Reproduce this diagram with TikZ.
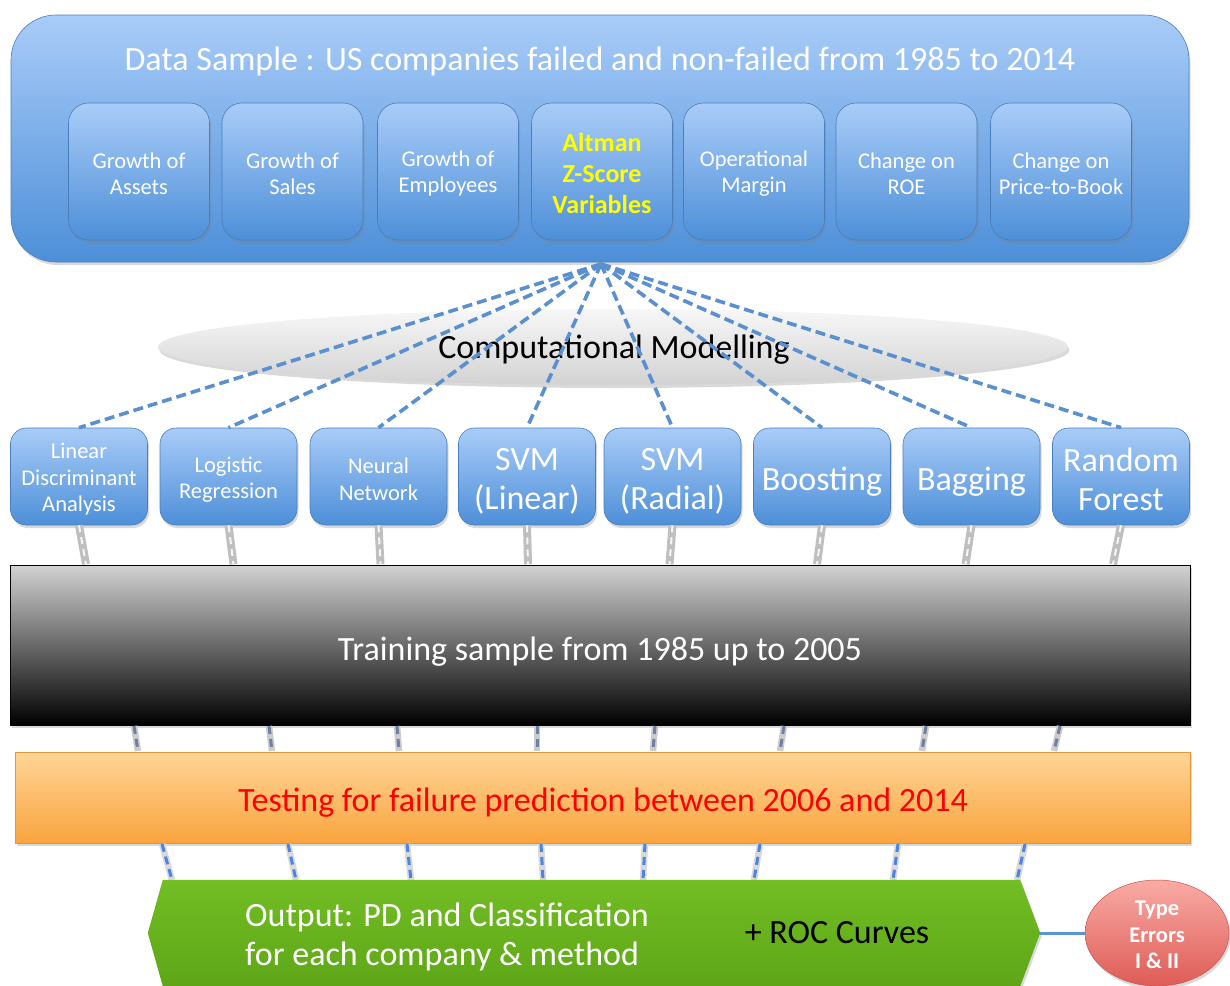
\documentclass[tikz,border=0pt]{standalone}
\usepackage{fontspec}
\setmainfont{Carlito}
\usetikzlibrary{shapes.geometric,shadows,calc}

\definecolor{bluetop}{HTML}{A9CCF8}
\definecolor{bluebot}{HTML}{4D8FD8}
\definecolor{boxedge}{HTML}{4A7EBB}
\definecolor{linkblue}{HTML}{5A8FD0}
\definecolor{orangetop}{HTML}{FFD597}
\definecolor{orangebot}{HTML}{F9A43E}
\definecolor{orangeedge}{HTML}{E0963A}
\definecolor{greentop}{HTML}{72BE24}
\definecolor{greenbot}{HTML}{5EA617}
\definecolor{redtop}{HTML}{F9ABA5}
\definecolor{redbot}{HTML}{DF5B56}
\definecolor{rededge}{HTML}{C65450}
\definecolor{altman}{HTML}{FFFF00}
\definecolor{slateblue}{HTML}{6E80A6}
\definecolor{brightblue}{HTML}{4C84E6}
\definecolor{errline}{HTML}{5B95D2}

\begin{document}
\begin{tikzpicture}[x=1pt,y=-1pt,
  softshadow/.style={drop shadow={opacity=0.3,shadow xshift=1.5pt,shadow yshift=-3pt}},
  panel/.style={draw=boxedge,line width=0.6pt,top color=bluetop,bottom color=bluebot,
    rounded corners=20pt,inner sep=0pt,softshadow},
  varbox/.style={panel,minimum width=141pt,minimum height=137pt},
  methodbox/.style={panel,rounded corners=16pt,minimum width=137pt,minimum height=97pt},
  boxtext/.style={text=white,align=center,inner sep=0pt},
  vartext/.style={boxtext,font=\fontsize{22.5}{26}\selectfont},
  smalltext/.style={boxtext,font=\fontsize{22.5}{26.5}\selectfont},
  bigtext/.style={font=\fontsize{34}{39}\selectfont},
  bigboxtext/.style={boxtext,bigtext},
  spoke/.style={draw=linkblue,line width=3.6pt,dash pattern=on 10pt off 5pt},
  pipe/.style={draw=gray!50,line width=8pt,
    postaction={draw=white!92!gray,line width=2pt,dash pattern=on 7pt off 5pt}},
  slatepipe/.style={draw=gray!40,line width=6.5pt,
    postaction={draw=slateblue,line width=3pt,dash pattern=on 8pt off 5pt}},
  bluepipe/.style={draw=gray!30,line width=6.5pt,
    postaction={draw=brightblue,line width=3pt,dash pattern=on 8pt off 5pt}}]

\useasboundingbox (0,0) rectangle (1230,985);

% ---- data sample panel with its variables
\node[panel,rounded corners=45pt,minimum width=1178pt,minimum height=247pt] (sample) at (600,138.5) {};
\node[text=white,font=\fontsize{34}{40}\selectfont,anchor=base] (title) at (600,70)
  {Data Sample : US companies failed and non-failed from 1985 to 2014};

\foreach \v/\x in {v1/139,v2/292.5,v3/448,v4/602,v5/754,v6/906.5,v7/1061}
  \node[varbox] (\v) at (\x,171.5) {};

\node[vartext,yshift=-2pt] (v1label) at (v1) {Growth of\\Assets};
\node[vartext,yshift=-2pt] (v2label) at (v2) {Growth of\\Sales};
\node[vartext,yshift=-2pt] (v3label) at (v3) {Growth of\\Employees};
\node[boxtext,text=altman,font=\bfseries\fontsize{26}{31}\selectfont,yshift=-2pt] (v4label) at (v4)
  {Altman\\Z-Score\\Variables};
\node[vartext,yshift=-2pt] (v5label) at (v5) {Operational\\Margin};
\node[vartext,yshift=-2pt] (v6label) at (v6) {Change on\\ROE};
\node[vartext,yshift=-2pt] (v7label) at (v7) {Change on\\Price-to-Book};

\coordinate (hub) at (601,264);

% ---- modelling layer
\node[ellipse,minimum width=910pt,minimum height=76pt,inner sep=0pt,
  top color=gray!6,bottom color=gray!35,softshadow] (model) at (613,347) {};
\node[bigtext,anchor=base] (modellabel) at (614,358) {Computational Modelling};

% ---- methods
\foreach \m/\x in {lda/79,lr/228.5,nn/378.5,svml/527,svmr/672.5,boost/822,bag/971.5,rf/1121}
  \node[methodbox] (\m) at (\x,476.5) {};

\node[smalltext,yshift=-3pt]   (ldalabel)   at (lda)   {Linear\\Discriminant\\Analysis};
\node[smalltext,yshift=-3pt]   (lrlabel)    at (lr)    {Logistic\\Regression};
\node[smalltext,yshift=-3pt]   (nnlabel)    at (nn)    {Neural\\Network};
\node[bigboxtext,yshift=-5pt]  (svmllabel)  at (svml)  {SVM\\(Linear)};
\node[bigboxtext,yshift=-5pt]  (svmrlabel)  at (svmr)  {SVM\\(Radial)};
\node[bigboxtext,yshift=-5pt]  (boostlabel) at (boost) {Boosting};
\node[bigboxtext,yshift=-5pt]  (baglabel)   at (bag)   {Bagging};
\node[bigboxtext,yshift=-3pt]  (rflabel)    at (rf)    {Random\\Forest};

\foreach \m in {lda,lr,nn,svml,svmr,boost,bag,rf}
  \draw[spoke] (hub) -- (\m.north);

% ---- training sample
\node[draw=black,line width=0.6pt,top color=gray!35,bottom color=black,
  minimum width=1180pt,minimum height=160pt,inner sep=0pt,softshadow] (train) at (600,645) {};
\node[text=white,bigtext,anchor=base] (trainlabel) at (600,660)
  {Training sample from 1985 up to 2005};

\foreach \m/\dx in {lda/7,lr/5,nn/2,svml/1,svmr/-3,boost/-5,bag/-6,rf/-8}
  \draw[pipe] (\m.south) -- ($(\m.south |- train.north)+(\dx,-0.5)$);

% ---- testing sample
\node[draw=orangeedge,line width=0.5pt,top color=orangetop,bottom color=orangebot,
  minimum width=1175pt,minimum height=91pt,inner sep=0pt,softshadow] (test) at (602.5,797.5) {};
\node[text=red,bigtext,anchor=base] (testlabel) at (603,811)
  {Testing for failure prediction between 2006 and 2014};

\foreach \i/\xa/\xb in {1/134/138,2/269/272,3/397/399,4/537/537,5/655/653,6/784/780,7/926/922,8/1060/1054}{
  \coordinate (ta\i) at (\xa,726);
  \coordinate (tb\i) at (\xb,751);
  \draw[slatepipe] (ta\i) -- (tb\i);
}

% ---- output
\node[minimum width=857pt,minimum height=106pt,inner sep=0pt] (out) at (591.5,933) {};
\foreach \i/\xa/\xb in {1/162/172,2/288/296,3/407/411,4/541/543,5/645/643,6/760/754,7/898/893,8/1025/1017}{
  \coordinate (oa\i) at (\xa,844);
  \coordinate (ob\i) at (\xb,880);
  \draw[bluepipe] (oa\i) -- (ob\i);
}
\shade[top color=greentop,bottom color=greenbot,softshadow]
  (out.north west) -- (out.north east) -- ($(out.east)+(20,0)$) coordinate (tip)
  -- (out.south east) -- (out.south west) -- ($(out.west)+(-15,0)$) -- cycle;
\node[text=white,bigtext,align=left,anchor=west,inner sep=0pt] (outlabel) at (245,937)
  {Output: PD and Classification\\for each company \& method};
\node[bigtext,anchor=base] (roc) at (837,943) {+ ROC Curves};

% ---- type errors
\coordinate (typespos) at (1157,933);
\node[ellipse,minimum width=144pt,minimum height=106pt,inner sep=0pt] (types) at (typespos) {};
\draw[draw=errline,line width=3pt] (tip) -- (types.west);
\node[ellipse,draw=rededge,line width=0.5pt,top color=redtop,bottom color=redbot,
  minimum width=144pt,minimum height=106pt,inner sep=0pt,softshadow] (typesbody) at (typespos) {};
\node[boxtext,font=\bfseries\fontsize{22.5}{26.5}\selectfont,yshift=-2pt] (typeslabel) at (typesbody)
  {Type\\Errors\\I \& II};
\end{tikzpicture}
\end{document}
